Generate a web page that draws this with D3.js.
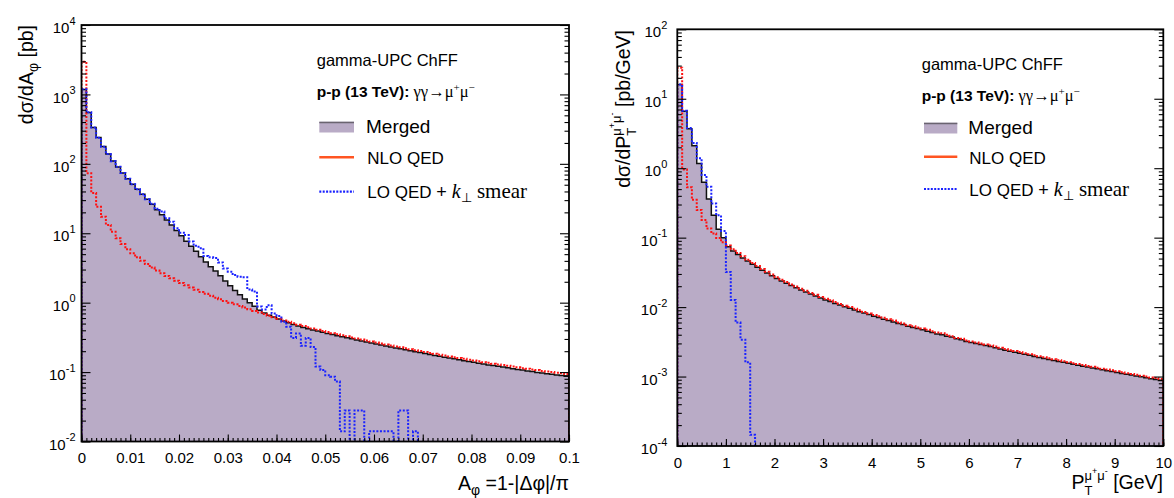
<!DOCTYPE html>
<html><head><meta charset="utf-8">
<script src="https://cdn.jsdelivr.net/npm/d3@7"></script>
<style>
html,body{margin:0;padding:0;background:#fff;}
svg{display:block;}
</style></head><body>
<svg id="c" width="1174" height="498"></svg>
<script>
// ---------------- data ----------------
const aphiBinStart = 0, aphiBinWidth = 0.001;
const aphiMerged = [1180,550,335,240,178,139,110,90,74,61,
 51,43,36.5,31,26.2,21.8,18.4,15.5,13.2,11.0,
 9.2,7.7,6.5,5.5,4.6,3.85,3.3,2.85,2.45,2.05,
 1.75,1.5,1.3,1.13,1.0,0.89,0.78,0.71,0.66,0.62,
 0.58,0.545,0.515,0.485,0.46,0.44,0.42,0.405,0.39,0.375,
 0.36,0.347,0.335,0.323,0.312,0.301,0.291,0.281,0.272,0.263,
 0.254,0.246,0.238,0.23,0.223,0.216,0.209,0.203,0.197,0.191,
 0.185,0.179,0.174,0.169,0.164,0.159,0.155,0.15,0.146,0.142,
 0.138,0.134,0.131,0.127,0.124,0.121,0.118,0.115,0.112,0.109,
 0.107,0.104,0.102,0.099,0.097,0.095,0.093,0.091,0.089,0.087];
const aphiNLO = [2950,73,38,24,17.3,13.2,10.5,8.5,7.0,5.9,
 5.15,4.5,4.0,3.6,3.2,2.9,2.65,2.43,2.25,2.07,
 1.92,1.78,1.65,1.53,1.43,1.34,1.26,1.18,1.12,1.06,
 1.0,0.945,0.895,0.85,0.805,0.76,0.72,0.685,0.65,0.615,
 0.585,0.555,0.53,0.505,0.482,0.462,0.443,0.425,0.408,0.392,
 0.377,0.362,0.35,0.338,0.327,0.316,0.305,0.295,0.285,0.275,
 0.266,0.258,0.25,0.242,0.234,0.227,0.22,0.213,0.207,0.201,
 0.195,0.189,0.184,0.178,0.173,0.168,0.164,0.159,0.155,0.151,
 0.147,0.143,0.139,0.136,0.132,0.129,0.126,0.123,0.12,0.117,
 0.114,0.112,0.109,0.107,0.104,0.102,0.1,0.098,0.096,0.094];
const aphiLO = [1190,555,335,238,176,138,109,91,74,61,
 51,43,36.5,31,26.5,22.5,20.5,16.4,14.7,11.8,
 10.2,9.4,7.6,6.6,6.1,4.7,4.5,4.4,3.8,3.1,
 2.8,2.5,2.37,2.32,1.55,1.45,0.88,0.8,0.92,0.7,
 0.64,0.53,0.45,0.31,0.36,0.24,0.31,0.23,0.12,0.107,
 0.09,0.086,0.073,0.014,0.028,0,0.028,0.028,0,0.014,
 0.014,0.014,0.014,0.014,0,0.028,0.028,0,0.014,0,
 0,0,0,0,0,0,0,0,0,0,
 0,0,0,0,0,0,0,0,0,0,
 0,0,0,0,0,0,0,0,0,0];

const ptBinStart = 0, ptBinWidth = 0.1;
const ptMerged = [16,6.6,3.7,2.1,1.17,0.63,0.36,0.21,0.132,0.1,
 0.074,0.064,0.057,0.051,0.046,0.0415,0.0375,0.034,0.031,0.0283,
 0.0259,0.0238,0.022,0.0204,0.019,0.0177,0.0165,0.0154,0.0144,0.0135,
 0.0127,0.012,0.0113,0.0107,0.0101,0.0096,0.0091,0.0086,0.0082,0.0078,
 0.0074,0.0071,0.0067,0.0064,0.0061,0.0058,0.0056,0.0053,0.0051,0.0049,
 0.0047,0.0045,0.0043,0.0041,0.004,0.0038,0.0037,0.0035,0.0034,0.0032,
 0.0031,0.003,0.0029,0.0028,0.0027,0.0026,0.0025,0.0024,0.00232,0.00224,
 0.00216,0.00209,0.00202,0.00195,0.00188,0.00182,0.00176,0.0017,0.00165,0.0016,
 0.00155,0.0015,0.00145,0.00141,0.00137,0.00133,0.00129,0.00125,0.00121,0.00118,
 0.00114,0.00111,0.00108,0.00105,0.00102,0.00099,0.00096,0.00093,0.00091,0.00088];
const ptNLO = [28,0.96,0.53,0.35,0.25,0.18,0.135,0.115,0.099,0.086,
 0.077,0.068,0.06,0.054,0.048,0.0432,0.039,0.0354,0.0323,0.0295,
 0.027,0.0248,0.0229,0.0212,0.0198,0.0184,0.0172,0.016,0.015,0.014,
 0.0132,0.0125,0.0118,0.0111,0.0105,0.01,0.0095,0.009,0.0085,0.0081,
 0.0077,0.0074,0.007,0.0067,0.0064,0.006,0.0058,0.0055,0.0053,0.0051,
 0.0049,0.0047,0.0045,0.0043,0.0042,0.004,0.0038,0.0036,0.0035,0.0033,
 0.0032,0.0031,0.003,0.0029,0.0028,0.0027,0.0026,0.0025,0.0024,0.00233,
 0.00225,0.00217,0.0021,0.00203,0.00196,0.0019,0.00183,0.00177,0.00172,0.00166,
 0.00161,0.00156,0.00151,0.00147,0.00142,0.00138,0.00134,0.0013,0.00126,0.00123,
 0.00119,0.00115,0.00112,0.00109,0.00106,0.00103,0.001,0.00097,0.00095,0.00092];
const ptLO = [16,6.7,3.8,2.3,1.39,0.8,0.54,0.31,0.21,0.125,
 0.032,0.0127,0.006,0.0034,0.0016,0.000145,0,0,0,0,
 0,0,0,0,0,0,0,0,0,0,
 0,0,0,0,0,0,0,0,0,0,
 0,0,0,0,0,0,0,0,0,0,
 0,0,0,0,0,0,0,0,0,0,
 0,0,0,0,0,0,0,0,0,0,
 0,0,0,0,0,0,0,0,0,0,
 0,0,0,0,0,0,0,0,0,0,
 0,0,0,0,0,0,0,0,0,0];

const aphiTicks = [0,0.01,0.02,0.03,0.04,0.05,0.06,0.07,0.08,0.09,0.1];
const ptTicks = [0,1,2,3,4,5,6,7,8,9,10];
const aphiDecades = [-2,-1,0,1,2,3,4];
const ptDecades = [-4,-3,-2,-1,0,1,2];
const legendTitle = "gamma-UPC ChFF";
const legendEntries = ["Merged","NLO QED","LO QED"];

// ---------------- style ----------------
const SANS = '"Liberation Sans", Arial, Helvetica, sans-serif';
const SERIF = '"Liberation Serif", "Times New Roman", serif';
const FILL = '#b9abc6';
const RED = '#ff1010';
const BLUE = '#1a22ff';
const LEGRED = '#ff5522';

const svg = d3.select('#c');
svg.append('rect').attr('width',1174).attr('height',498).attr('fill','#fff');
const defs = svg.append('defs');

function rich(parent, x, y, rot, anchor, segs) {
  const outer = parent.append('g').attr('transform', `translate(${x},${y}) rotate(${rot})`);
  const inner = outer.append('g');
  let cx = 0, mark = 0;
  for (const s of segs) {
    const start = s.stack ? mark : cx + (s.gap || 0);
    if (s.mark) mark = start;
    const t = inner.append('text')
      .attr('x', start).attr('y', s.dy || 0)
      .attr('font-size', s.size)
      .attr('font-family', s.serif ? SERIF : SANS)
      .attr('font-weight', s.bold ? 'bold' : null)
      .attr('font-style', s.italic ? 'italic' : null)
      .attr('fill', '#000')
      .style('white-space', 'pre')
      .text(s.t);
    const w = t.node().getComputedTextLength();
    if (s.stack) cx = Math.max(cx, start + w); else cx = start + w;
  }
  if (anchor === 'end') inner.attr('transform', `translate(${-cx},0)`);
  return outer;
}

function drawPanel(cfg, idx) {
  const x = d3.scaleLinear().domain(cfg.xdom).range([cfg.x0, cfg.x1]);
  const y = d3.scaleLog().domain(cfg.ydom).range([cfg.y1, cfg.y0]);
  const g = svg.append('g');
  const cid = 'clip' + idx;
  defs.append('clipPath').attr('id', cid).append('rect')
    .attr('x', cfg.x0).attr('y', cfg.y0).attr('width', cfg.x1 - cfg.x0).attr('height', cfg.y1 - cfg.y0);
  const plot = g.append('g').attr('clip-path', `url(#${cid})`);
  const bottom = cfg.y1 + 4;
  function steps(vals) {
    const p = [[x(cfg.lo), bottom]];
    vals.forEach((v, i) => {
      const yy = v > 0 ? Math.min(y(v), bottom) : bottom;
      p.push([x(cfg.lo + i * cfg.w), yy], [x(cfg.lo + (i + 1) * cfg.w), yy]);
    });
    p.push([x(cfg.lo + vals.length * cfg.w), bottom]);
    return p;
  }
  const line = d3.line();
  const mp = steps(cfg.merged);
  plot.append('path').attr('d', line(mp) + 'Z').attr('fill', FILL).attr('stroke', 'none');
  plot.append('path').attr('d', line(mp)).attr('fill', 'none').attr('stroke', '#111').attr('stroke-width', 1.5);
  plot.append('path').attr('d', line(steps(cfg.nlo))).attr('fill', 'none')
    .attr('stroke', RED).attr('stroke-width', 2).attr('stroke-dasharray', '2,1.6');
  plot.append('path').attr('d', line(steps(cfg.lo_))).attr('fill', 'none')
    .attr('stroke', BLUE).attr('stroke-width', 2).attr('stroke-dasharray', '2,1.6');

  // axes
  const styleAxis = sel => {
    sel.select('.domain').remove();
    sel.selectAll('.tick line').attr('stroke', '#000').attr('stroke-width', 1.1);
    sel.attr('font-family', SANS).attr('font-size', 15);
    sel.selectAll('.tick text').attr('fill', '#000');
  };
  const xMinor = x.ticks(100);
  g.append('g').attr('transform', `translate(0,${cfg.y1})`)
    .call(d3.axisBottom(x).tickValues(xMinor).tickSize(-3.5).tickFormat('')).call(styleAxis);
  g.append('g').attr('transform', `translate(0,${cfg.y1})`)
    .call(d3.axisBottom(x).tickValues(cfg.xticks).tickSize(-7).tickPadding(11).tickFormat(d => String(+d.toFixed(3))))
    .call(styleAxis);

  const majors = cfg.decades.map(e => Math.pow(10, e));
  const minors = [];
  cfg.decades.slice(0, -1).forEach(e => { for (let k = 2; k <= 9; k++) minors.push(k * Math.pow(10, e)); });
  g.append('g').attr('transform', `translate(${cfg.x0},0)`)
    .call(d3.axisLeft(y).tickValues(minors).tickSize(-4.5).tickFormat('')).call(styleAxis);
  const ya = g.append('g').attr('transform', `translate(${cfg.x0},0)`)
    .call(d3.axisLeft(y).tickValues(majors).tickSize(-9).tickPadding(cfg.labPad).tickFormat(d => d))
    .call(styleAxis);
  ya.selectAll('.tick text').each(function (d) {
    const e = Math.round(Math.log10(d));
    const t = d3.select(this);
    t.text(null).attr('dy', null).attr('y', 7.6);
    t.append('tspan').text('10');
    t.append('tspan').attr('dy', -8.6).attr('font-size', 11).text(String(e));
  });
  g.append('g').attr('transform', `translate(${cfg.x1},0)`)
    .call(d3.axisRight(y).tickValues(minors).tickSize(-4.5).tickFormat('')).call(styleAxis);
  g.append('g').attr('transform', `translate(${cfg.x1},0)`)
    .call(d3.axisRight(y).tickValues(majors).tickSize(-9).tickFormat('')).call(styleAxis);

  g.append('rect').attr('x', cfg.x0).attr('y', cfg.y0).attr('width', cfg.x1 - cfg.x0).attr('height', cfg.y1 - cfg.y0)
    .attr('fill', 'none').attr('stroke', '#000').attr('stroke-width', 1.8);

  // legend
  const L = cfg.leg;
  rich(svg, L.tx, L.t1, 0, 'start', [{ t: legendTitle, size: 16.5 }]);
  rich(svg, L.tx, L.t2, 0, 'start', [
    { t: 'p-p (13 TeV):', size: 15.5, bold: true },
    { t: ' γγ→μ', size: 16.5, serif: true },
    { t: '+', size: 11, serif: true, dy: -6.5 },
    { t: 'μ', size: 16.5, serif: true },
    { t: '−', size: 11, serif: true, dy: -6.5 }]);
  svg.append('rect').attr('x', L.sx).attr('y', L.m).attr('width', L.sw).attr('height', 10.8).attr('fill', FILL);
  svg.append('line').attr('x1', L.sx).attr('x2', L.sx + L.sw).attr('y1', L.m + 0.8).attr('y2', L.m + 0.8)
    .attr('stroke', '#6a6470').attr('stroke-width', 1.6);
  rich(svg, L.mx, L.m + 11.6, 0, 'start', [{ t: legendEntries[0], size: 19 }]);
  svg.append('line').attr('x1', L.sx).attr('x2', L.sx + L.sw).attr('y1', L.n).attr('y2', L.n)
    .attr('stroke', LEGRED).attr('stroke-width', 2.6);
  rich(svg, L.nx, L.n + 6.8, 0, 'start', [{ t: legendEntries[1], size: 17 }]);
  svg.append('line').attr('x1', L.sx).attr('x2', L.sx + L.sw).attr('y1', L.l).attr('y2', L.l)
    .attr('stroke', BLUE).attr('stroke-width', 2.2).attr('stroke-dasharray', '2,1.4');
  rich(svg, L.nx, L.l + 6.6, 0, 'start', [
    { t: legendEntries[2] + ' ', size: 17 },
    { t: '+ ', size: 18 },
    { t: 'k', size: 20, serif: true, italic: true },
    { t: '⊥', size: 13, serif: true, dy: 4 },
    { t: ' smear', size: 21, serif: true }]);
}

drawPanel({
  x0: 81.5, x1: 569, y0: 25, y1: 441.5, xdom: [0, 0.1], ydom: [1e-2, 1e4],
  lo: aphiBinStart, w: aphiBinWidth, merged: aphiMerged, nlo: aphiNLO, lo_: aphiLO,
  xticks: aphiTicks, decades: aphiDecades, labPad: 6,
  leg: { tx: 316.7, t1: 65.7, t2: 97, sx: 319.3, sw: 34.7, m: 121.7, mx: 366, n: 157.3, nx: 367.3, l: 191.7 }
}, 0);
drawPanel({
  x0: 677.3, x1: 1163.3, y0: 29.3, y1: 446, xdom: [0, 10], ydom: [1e-4, 1e2],
  lo: ptBinStart, w: ptBinWidth, merged: ptMerged, nlo: ptNLO, lo_: ptLO,
  xticks: ptTicks, decades: ptDecades, labPad: 10,
  leg: { tx: 921.7, t1: 70, t2: 101, sx: 924, sw: 33.3, m: 122.7, mx: 968.3, n: 156.7, nx: 969.3, l: 189 }
}, 1);

// axis titles
rich(svg, 33, 25, -90, 'end', [
  { t: 'dσ/dA', size: 19.5 },
  { t: 'φ', size: 14, dy: 5 },
  { t: ' [pb]', size: 19.5 }]);
rich(svg, 569, 490, 0, 'end', [
  { t: 'A', size: 19.5 },
  { t: 'φ', size: 14, dy: 5 },
  { t: ' =1-|Δφ|/π', size: 19.5 }]);
rich(svg, 630, 30, -90, 'end', [
  { t: 'dσ/dP', size: 19.5 },
  { t: 'μ', size: 13, dy: -9, mark: true },
  { t: '+', size: 9, dy: -15 },
  { t: 'μ', size: 13, dy: -9 },
  { t: '-', size: 9, dy: -15 },
  { t: 'T', size: 13, dy: 5.7, stack: true },
  { t: ' [pb/GeV]', size: 19.5 }]);
rich(svg, 1163, 489, 0, 'end', [
  { t: 'P', size: 19.5 },
  { t: 'μ', size: 13, dy: -9, mark: true },
  { t: '+', size: 9, dy: -15 },
  { t: 'μ', size: 13, dy: -9 },
  { t: '-', size: 9, dy: -15 },
  { t: 'T', size: 13, dy: 5.7, stack: true },
  { t: ' [GeV]', size: 19.5 }]);
</script>
</body></html>
